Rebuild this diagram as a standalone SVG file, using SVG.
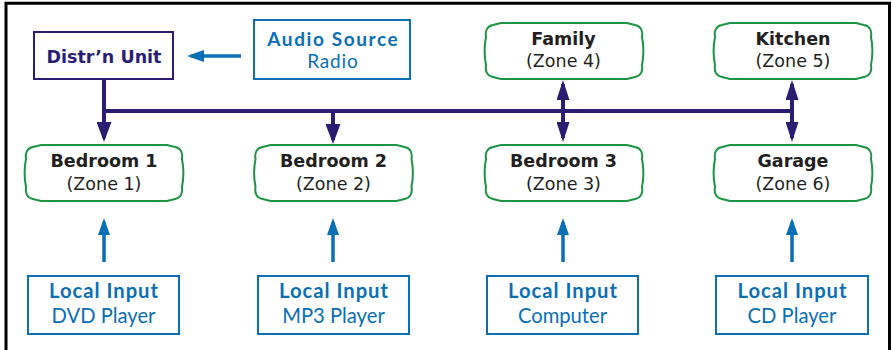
<svg xmlns="http://www.w3.org/2000/svg" width="893" height="350" viewBox="0 0 893 350">
<defs>
<style>
.bg{fill:#ffffff}
.frame{fill:none;stroke:#000;stroke-width:3}
.zone{fill:#fff;stroke:#1b9444;stroke-width:2}
.src{fill:#fff;stroke:#0a6fb5;stroke-width:2}
.dist{fill:#fff;stroke:#2a1e72;stroke-width:2}
.t{font-family:"DejaVu Sans",Verdana,sans-serif;font-size:17.5px;text-anchor:middle;fill:#231f20}
.tb{font-weight:bold}
.tn{fill:#2a1e72;font-weight:bold}
.s{font-family:Lato,"Open Sans",sans-serif;font-size:20.2px;text-anchor:middle;fill:#0a6fb5}
.s2{font-size:19px}
.sb{font-weight:bold;letter-spacing:1px}
.s2.sb{letter-spacing:1.6px}
.r2{letter-spacing:0.8px}
.navy{fill:none;stroke:#2a1e72;stroke-width:4}
.blue{fill:none;stroke:#0a6fb5;stroke-width:3.5}
</style>
<marker id="hn" viewBox="0 0 20 15" refX="16" refY="7.5" markerWidth="20" markerHeight="15" markerUnits="userSpaceOnUse" orient="auto-start-reverse"><path d="M0,0 L20,7.5 L0,15 Z" fill="#2a1e72"/></marker>
<marker id="hd" viewBox="0 0 20 13" refX="16" refY="6.5" markerWidth="20" markerHeight="13" markerUnits="userSpaceOnUse" orient="auto-start-reverse"><path d="M0,0 L20,6.5 L0,13 Z" fill="#2a1e72"/></marker>
<marker id="hb" viewBox="0 0 17 12" refX="13" refY="6" markerWidth="17" markerHeight="12" markerUnits="userSpaceOnUse" orient="auto"><path d="M0,0 L17,6 L0,12 Z" fill="#0a6fb5"/></marker>
<path id="zs" d="M8,2 L16,0 H142 L150,2 C156,3 158,8 157,14 C159,24 159,32 157,42 C158,48 156,53 150,54 L142,56 H16 L8,54 C2,53 0,48 1,42 C-1,32 -1,24 1,14 C0,8 2,3 8,2 Z"/>
</defs>
<rect class="bg" x="0" y="0" width="893" height="350"/>
<path class="frame" d="M6,353 V3.3 H889.5 V353"/>

<g id="connectors">
<path class="navy" d="M104,79 V111 H792"/>
<line class="navy" x1="104" y1="111" x2="104" y2="138" marker-end="url(#hn)"/>
<line class="navy" x1="333" y1="111" x2="333" y2="140" marker-end="url(#hn)"/>
<line class="navy" x1="563" y1="84" x2="563" y2="138" marker-start="url(#hd)" marker-end="url(#hd)"/>
<line class="navy" x1="792" y1="84" x2="792" y2="138" marker-start="url(#hd)" marker-end="url(#hd)"/>
<line class="blue" x1="241" y1="56" x2="191" y2="56" marker-end="url(#hb)"/>
<line class="blue" x1="104" y1="262" x2="104" y2="222" marker-end="url(#hb)"/>
<line class="blue" x1="333" y1="262" x2="333" y2="222" marker-end="url(#hb)"/>
<line class="blue" x1="563" y1="262" x2="563" y2="222" marker-end="url(#hb)"/>
<line class="blue" x1="792" y1="262" x2="792" y2="222" marker-end="url(#hb)"/>
</g>

<g id="distr">
<rect class="dist" x="34" y="32" width="139" height="47"/>
<text class="t tn" x="104" y="62.5">Distr’n Unit</text>
</g>
<g id="audio">
<rect class="src" x="254" y="20" width="156" height="59"/>
<text class="s s2 sb" x="333.3" y="45.5">Audio Source</text>
<text class="s s2 r2" x="332.9" y="68.3">Radio</text>
</g>
<g id="family">
<use href="#zs" class="zone" transform="translate(485,23)"/>
<text class="t tb" x="563.5" y="44.5">Family</text>
<text class="t" x="563.5" y="66.5">(Zone 4)</text>
</g>
<g id="kitchen">
<use href="#zs" class="zone" transform="translate(714,23)"/>
<text class="t tb" x="793" y="44.5">Kitchen</text>
<text class="t" x="793" y="66.5">(Zone 5)</text>
</g>
<g id="bedroom1">
<use href="#zs" class="zone" transform="translate(25,145)"/>
<text class="t tb" x="104" y="166.5">Bedroom 1</text>
<text class="t" x="104" y="189.5">(Zone 1)</text>
</g>
<g id="bedroom2">
<use href="#zs" class="zone" transform="translate(254.5,145)"/>
<text class="t tb" x="333.5" y="166.5">Bedroom 2</text>
<text class="t" x="333.5" y="189.5">(Zone 2)</text>
</g>
<g id="bedroom3">
<use href="#zs" class="zone" transform="translate(485,145)"/>
<text class="t tb" x="563.5" y="166.5">Bedroom 3</text>
<text class="t" x="563.5" y="189.5">(Zone 3)</text>
</g>
<g id="garage">
<use href="#zs" class="zone" transform="translate(714,145)"/>
<text class="t tb" x="793" y="166.5">Garage</text>
<text class="t" x="793" y="189.5">(Zone 6)</text>
</g>
<g id="local1">
<rect class="src" x="28" y="276" width="151" height="58"/>
<text class="s sb" x="104" y="298.3">Local Input</text>
<text class="s" x="103.5" y="322.7">DVD Player</text>
</g>
<g id="local2">
<rect class="src" x="258" y="276" width="151" height="58"/>
<text class="s sb" x="334" y="298.3">Local Input</text>
<text class="s" x="333.5" y="322.7">MP3 Player</text>
</g>
<g id="local3">
<rect class="src" x="487" y="276" width="151" height="58"/>
<text class="s sb" x="563" y="298.3">Local Input</text>
<text class="s" x="562.5" y="322.7">Computer</text>
</g>
<g id="local4">
<rect class="src" x="716" y="276" width="152" height="58"/>
<text class="s sb" x="792.5" y="298.3">Local Input</text>
<text class="s" x="792" y="322.7">CD Player</text>
</g>
</svg>
